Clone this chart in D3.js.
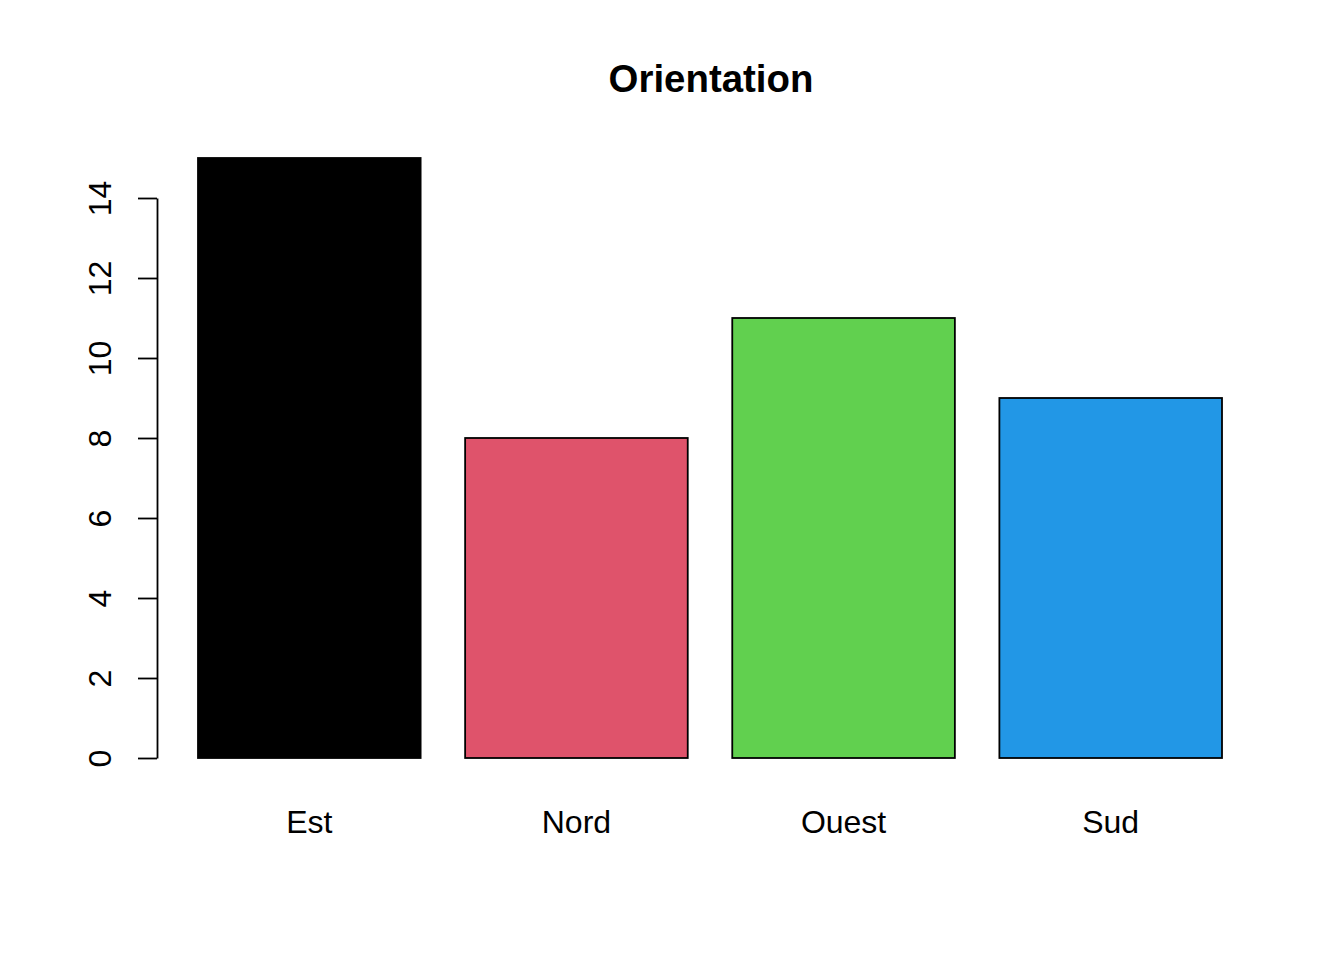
<!DOCTYPE html>
<html>
<head>
<meta charset="utf-8">
<style>
  body { margin: 0; background: #fff; }
  text { font-family: "Liberation Sans", Arial, sans-serif; fill: #000; }
</style>
</head>
<body>
<script src="https://d3js.org/d3.v7.min.js"></script>
<script>
  var width = 1344, height = 960;

  // data
  var categories = ["Est", "Nord", "Ouest", "Sud"];
  var counts = [15, 8, 11, 9];
  var colors = ["#000000", "#DF536B", "#61D04F", "#2297E6"];
  var yTicks = [0, 2, 4, 6, 8, 10, 12, 14];

  var svg = d3.select("body").append("svg")
      .attr("width", width)
      .attr("height", height);

  // R barplot coords: bar i spans [0.2 + 1.2 i, 1.2 + 1.2 i]
  var x = d3.scaleLinear().domain([0.2, 4.8]).range([198, 1222]);
  var y = d3.scaleLinear().domain([0, 14]).range([758, 198]);

  var bars = categories.map(function(c, i) {
      return { name: c, value: counts[i], color: colors[i], x0: 0.2 + 1.2 * i, x1: 1.2 + 1.2 * i };
  });

  svg.append("g")
      .selectAll("rect")
      .data(bars)
      .enter().append("rect")
      .attr("x", function(d) { return x(d.x0); })
      .attr("y", function(d) { return y(d.value); })
      .attr("width", function(d) { return x(d.x1) - x(d.x0); })
      .attr("height", function(d) { return y(0) - y(d.value); })
      .attr("fill", function(d) { return d.color; })
      .attr("stroke", "#000")
      .attr("stroke-width", 1.8);

  // category names
  svg.append("g")
      .selectAll("text")
      .data(bars)
      .enter().append("text")
      .attr("x", function(d) { return x((d.x0 + d.x1) / 2); })
      .attr("y", 833)
      .attr("text-anchor", "middle")
      .style("font-size", "32px")
      .text(function(d) { return d.name; });

  // y axis
  var yAxis = svg.append("g")
      .attr("transform", "translate(157,0)")
      .call(d3.axisLeft(y).tickValues(yTicks).tickSize(19).tickSizeOuter(0));
  yAxis.select(".domain").attr("stroke", "#000").attr("stroke-width", 1.8);
  yAxis.selectAll(".tick line").attr("stroke", "#000").attr("stroke-width", 1.8);
  yAxis.selectAll(".tick text")
      .attr("x", null).attr("dy", null)
      .attr("text-anchor", "middle")
      .attr("transform", "translate(-46,0) rotate(-90)")
      .style("font-size", "32px")
      .style("font-family", "'Liberation Sans', Arial, sans-serif")
      .attr("fill", "#000");

  // title
  svg.append("text")
      .attr("x", 711)
      .attr("y", 92)
      .attr("text-anchor", "middle")
      .style("font-size", "38.4px")
      .style("font-weight", "bold")
      .text("Orientation");
</script>
</body>
</html>
